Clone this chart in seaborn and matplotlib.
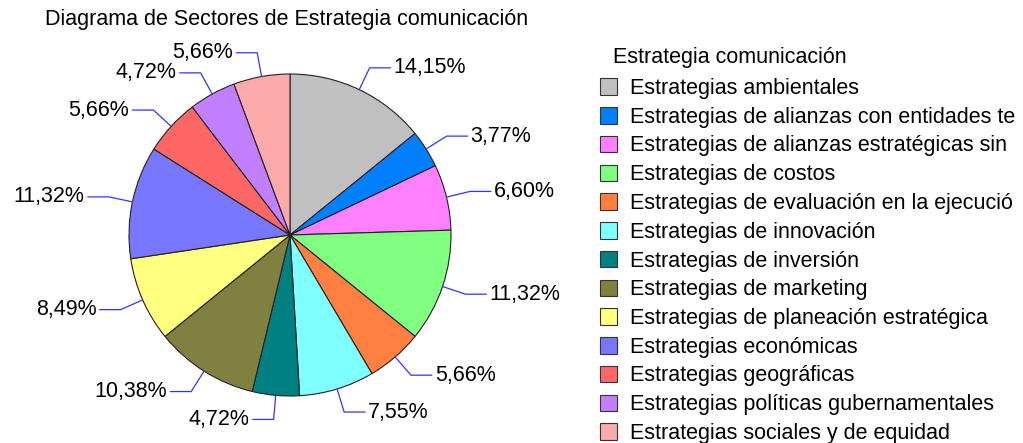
import numpy as np
import matplotlib
matplotlib.use("Agg")
import matplotlib.pyplot as plt
import seaborn as sns
from matplotlib.patches import Patch

# ------------------------------
# Data
# ------------------------------
categorias = [
    "Estrategias ambientales",
    "Estrategias de alianzas con entidades te",
    "Estrategias de alianzas estratégicas sin",
    "Estrategias de costos",
    "Estrategias de evaluación en la ejecució",
    "Estrategias de innovación",
    "Estrategias de inversión",
    "Estrategias de marketing",
    "Estrategias de planeación estratégica",
    "Estrategias económicas",
    "Estrategias geográficas",
    "Estrategias políticas gubernamentales",
    "Estrategias sociales y de equidad",
]
porcentajes = [14.15, 3.77, 6.60, 11.32, 5.66, 7.55, 4.72, 10.38, 8.49, 11.32, 5.66, 4.72, 5.66]
colores = ["#c0c0c0", "#0080ff", "#ff80ff", "#80ff80", "#ff8040", "#80ffff", "#008080",
           "#808040", "#ffff80", "#7777ff", "#ff6666", "#c080ff", "#ffaaaa"]

titulo = "Diagrama de Sectores de Estrategia comunicación"
titulo_leyenda = "Estrategia comunicación"

# ------------------------------
# Style
# ------------------------------
sns.set_theme(style="white", rc={"text.color": "black"})
plt.rcParams["font.family"] = ["Liberation Sans", "DejaVu Sans"]
FS = 15.5

W, H = 1023, 443
fig = plt.figure(figsize=(W / 100, H / 100), dpi=100)

# pie axes: centre at (290, 235) px, radius 161 px
R = 161.0
ax_w, ax_h = 580, 416
ax = fig.add_axes([0, 0, ax_w / W, ax_h / H])

wedges, _ = ax.pie(porcentajes, colors=colores, startangle=90, counterclock=False,
                   radius=1.0, wedgeprops=dict(edgecolor="#222222", linewidth=0.8))
ax.set_xlim(-ax_w / 2 / R, ax_w / 2 / R)
ax.set_ylim(-ax_h / 2 / R, ax_h / 2 / R)
ax.set_aspect("equal")
ax.axis("off")

# leader lines + labels
for w, v in zip(wedges, porcentajes):
    ang = np.deg2rad((w.theta1 + w.theta2) / 2)
    x0, y0 = np.cos(ang), np.sin(ang)
    x1, y1 = 1.15 * x0, 1.15 * y0
    s = 1 if x0 >= 0 else -1
    x2 = x1 + s * 0.13
    ax.plot([x0, x1, x2], [y0, y1, y1], color="#3333ff", lw=0.9, clip_on=False)
    ax.text(x2 + s * 0.02, y1, f"{v:.2f}".replace(".", ",") + "%",
            ha="left" if s > 0 else "right", va="center", fontsize=FS, clip_on=False)

fig.text(287 / W, 1 - 19 / H, titulo, ha="center", va="center", fontsize=FS)
fig.text(613 / W, 1 - 58 / H, titulo_leyenda, ha="left", va="center", fontsize=FS)

handles = [Patch(facecolor=c, edgecolor="#333333", linewidth=0.8) for c in colores]
leg = fig.legend(handles, categorias, loc="upper left",
                 bbox_to_anchor=(600 / W, 1 - 78 / H), frameon=False, fontsize=FS,
                 handlelength=0.8, handleheight=0.8, labelcolor="black",
                 handletextpad=0.6, labelspacing=0.36, borderaxespad=0, borderpad=0)

fig.savefig("out.png", dpi=100)
